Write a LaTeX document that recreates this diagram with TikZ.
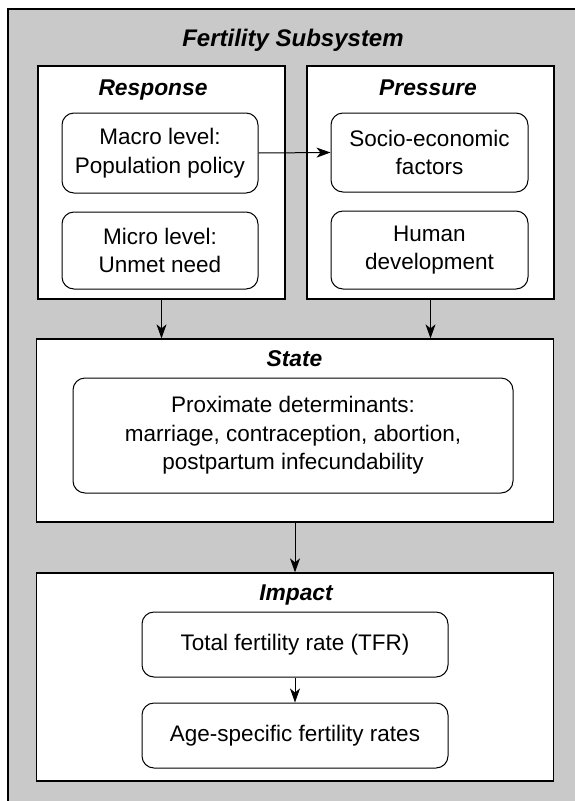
\documentclass[tikz,border=0pt]{standalone}
\usepackage{fontspec}
\setmainfont{Liberation Sans}
\usetikzlibrary{arrows.meta}
\begin{document}
\begin{tikzpicture}[x=1pt,y=-1pt,
  panel/.style={draw=black, line width=1.3pt, fill=white, rectangle, inner sep=0pt},
  item/.style={draw=black, line width=1pt, rounded corners=12pt, fill=white,
    align=center, inner sep=0pt, font=\fontsize{22.5}{28.5}\selectfont},
  heading/.style={font=\fontsize{22.8}{27}\selectfont\bfseries\itshape,
    anchor=base, inner sep=0pt},
  arr/.style={-{Stealth[length=14pt,width=10pt,inset=4pt]}, line width=1pt}]

% page and shaded frame
\useasboundingbox (0,0) rectangle (575,801);
\fill[black!21] (8,9) rectangle (575,801);
\draw[line width=1.3pt] (8,801) |- (575,9);

\node[heading, font=\fontsize{24}{28}\selectfont\bfseries\itshape] (title) at (293,46) {Fertility Subsystem};

% four panels
\node[panel, minimum width=247pt, minimum height=233pt] (response) at (161.5,182.5) {};
\node[panel, minimum width=247pt, minimum height=233pt] (pressure) at (430.5,182.5) {};
\node[panel, minimum width=517pt, minimum height=183pt] (state) at (295,430.5) {};
\node[panel, minimum width=517pt, minimum height=208pt] (impact) at (295,677) {};

\node[heading] (hresp) at (153,95) {Response};
\node[heading] (hpress) at (428,95) {Pressure};
\node[heading] (hstate) at (294.5,366) {State};
\node[heading] (himpact) at (296,600) {Impact};

% rounded items
\node[item, minimum width=196pt, minimum height=80pt] (macro) at (160,153) {Macro level:\\Population policy};
\node[item, minimum width=196pt, minimum height=77pt] (micro) at (160,250.5) {Micro level:\\Unmet need};
\node[item, minimum width=197pt, minimum height=79pt] (socio) at (429.5,152.5) {Socio-economic\\factors};
\node[item, minimum width=197pt, minimum height=78pt] (human) at (429.5,250) {Human\\development};
\node[item, minimum width=440pt, minimum height=115pt] (prox) at (293,435.5) {Proximate determinants:\\marriage, contraception, abortion,\\postpartum infecundability};
\node[item, minimum width=306pt, minimum height=65pt] (tfr) at (295,644.5) {Total fertility rate (TFR)};
\node[item, minimum width=306pt, minimum height=65pt] (age) at (295,735.5) {Age-specific fertility rates};

% connectors
\draw[arr] (macro.east) -- (socio.west);
\draw[arr] (response.south) -- (state.north -| response.south);
\draw[arr] (pressure.south) -- (state.north -| pressure.south);
\draw[arr] (state.south) -- (impact.north);
\draw[arr] (tfr.south) -- (age.north);
\end{tikzpicture}
\end{document}
